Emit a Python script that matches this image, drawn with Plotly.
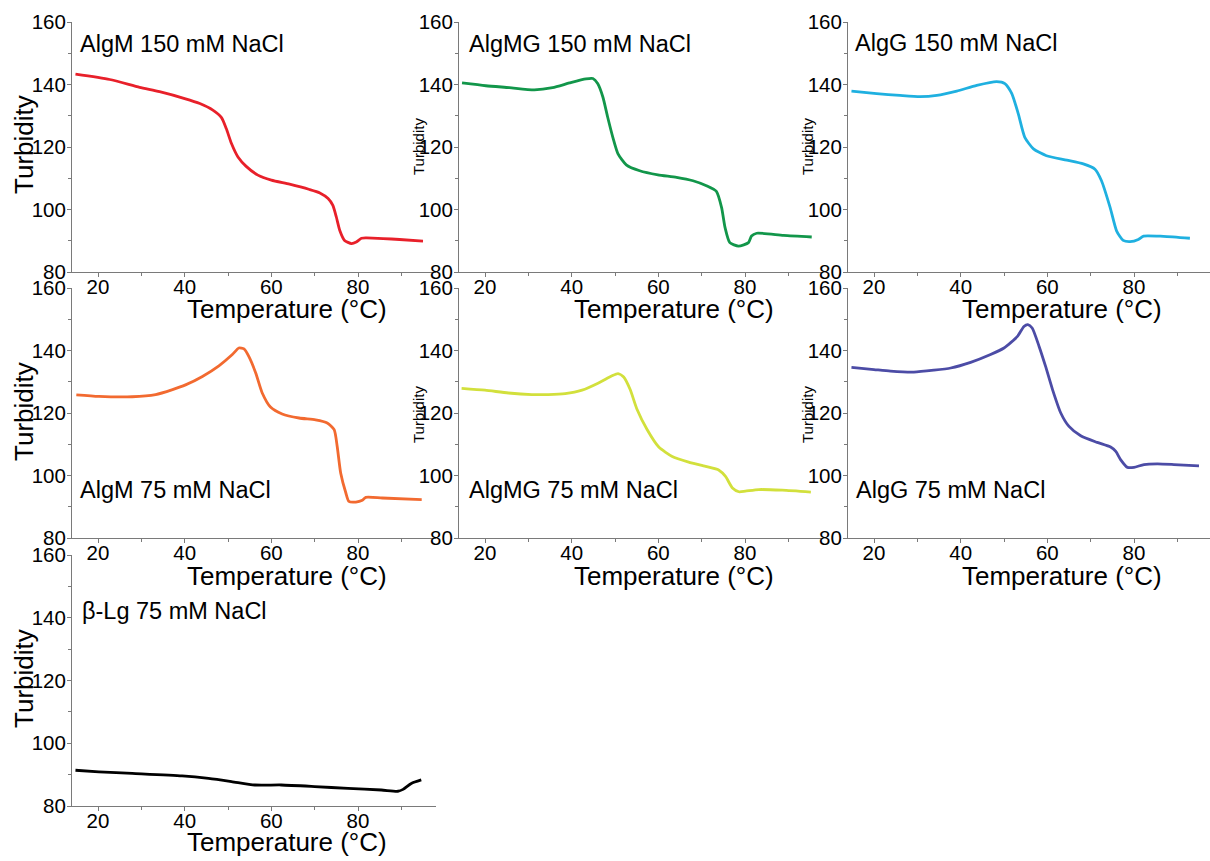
import plotly.graph_objects as go

W, H = 1210, 861

# ---------------- data ----------------
algm150_t = [14.8, 22.7, 29.6, 34.2, 40.0, 43.5, 46.5, 48.5, 49.6, 50.8, 52.3, 54.2, 56.9, 60.0, 64.2,
             68.8, 71.2, 73.1, 74.2, 75.0, 75.8, 76.9, 78.5, 79.6, 80.8, 81.9, 85.8, 89.6, 95.0]
algm150_y = [143.3, 141.6, 139.1, 137.7, 135.5, 133.9, 131.8, 129.4, 125.9, 121.1, 116.8, 113.8, 111.0, 109.4, 108.1,
             106.4, 105.3, 103.5, 101.3, 97.6, 93.3, 90.1, 89.1, 89.6, 90.8, 90.9, 90.7, 90.4, 89.9]

algmg150_t = [14.7, 20.2, 25.6, 31.4, 35.6, 39.5, 43.3, 44.9, 46.0, 47.2, 48.3, 49.5, 50.7, 52.6, 55.7,
              59.9, 64.2, 68.0, 71.1, 73.4, 74.6, 75.4, 76.5, 78.5, 80.8, 81.5, 82.7, 88.9, 95.4]
algmg150_y = [140.5, 139.6, 139.0, 138.3, 139.0, 140.5, 141.8, 141.9, 140.3, 136.0, 129.6, 123.1, 117.8, 114.3, 112.4,
              111.1, 110.3, 109.2, 107.6, 105.8, 100.6, 94.2, 89.4, 88.3, 89.4, 91.5, 92.4, 91.7, 91.2]

algg150_t = [14.8, 20.6, 26.0, 30.6, 34.5, 39.1, 43.7, 48.3, 50.2, 51.8, 53.3, 54.8, 56.8, 59.8, 64.5,
             68.3, 71.0, 72.5, 74.5, 76.0, 77.5, 79.1, 81.0, 82.2, 86.8, 92.9]
algg150_y = [137.9, 137.1, 136.5, 136.1, 136.5, 137.9, 139.7, 140.9, 140.3, 137.1, 130.6, 123.1, 119.4, 117.2, 115.8,
             114.6, 112.9, 109.2, 100.6, 93.1, 90.1, 89.7, 90.4, 91.5, 91.4, 90.8]

algm75_t = [15.0, 20.2, 27.9, 33.3, 37.2, 40.2, 44.1, 47.9, 51.0, 52.5, 53.7, 54.8, 56.4, 57.9, 59.8,
            62.5, 66.4, 70.2, 72.9, 74.5, 75.2, 76.0, 77.2, 77.9, 79.5, 81.0, 81.8, 85.6, 94.7]
algm75_y = [125.8, 125.3, 125.2, 125.9, 127.5, 129.0, 131.7, 135.1, 138.7, 140.8, 140.5, 138.1, 132.8, 126.4, 121.9,
            119.7, 118.4, 117.8, 116.8, 114.7, 109.3, 100.8, 94.4, 91.7, 91.5, 92.1, 93.0, 92.8, 92.3]

algmg75_t = [14.6, 20.0, 25.4, 30.8, 34.6, 38.5, 42.4, 46.2, 49.3, 50.7, 52.0, 53.5, 55.1, 57.4, 60.1,
             63.2, 67.0, 70.9, 74.0, 75.5, 77.1, 78.6, 80.1, 83.2, 88.6, 95.2]
algmg75_y = [127.9, 127.3, 126.4, 125.9, 125.9, 126.2, 127.3, 129.6, 131.9, 132.6, 131.5, 127.5, 121.1, 114.7, 109.1,
             106.1, 104.3, 102.9, 101.7, 99.7, 96.0, 94.8, 95.0, 95.5, 95.3, 94.7]

algg75_t = [14.8, 20.0, 23.8, 29.2, 33.8, 37.7, 42.3, 46.9, 50.0, 53.1, 54.6, 55.5, 56.5, 58.1, 59.6,
            61.2, 63.1, 65.0, 67.7, 71.5, 74.6, 75.8, 76.9, 78.5, 80.0, 82.3, 85.4, 89.2, 95.0]
algg75_y = [134.6, 133.9, 133.4, 133.1, 133.7, 134.4, 136.2, 138.7, 140.8, 144.5, 147.7, 148.3, 147.2, 141.3, 134.9,
            127.5, 120.0, 115.7, 112.7, 110.6, 109.1, 107.7, 105.1, 102.6, 102.6, 103.5, 103.7, 103.5, 103.1]

blg75_t = [14.8, 20.2, 27.9, 39.4, 45.5, 50.8, 56.2, 62.3, 70.0, 77.7, 85.4, 89.2, 90.4, 92.3, 94.6]
blg75_y = [91.4, 90.9, 90.4, 89.6, 88.8, 87.8, 86.7, 86.7, 86.2, 85.6, 85.1, 84.7, 85.3, 87.2, 88.3]

labels = ["AlgM 150 mM NaCl", "AlgMG 150 mM NaCl", "AlgG 150 mM NaCl",
          "AlgM 75 mM NaCl", "AlgMG 75 mM NaCl", "AlgG 75 mM NaCl", "β-Lg 75 mM NaCl"]
colors = ["#e8202a", "#12964a", "#1fb0e0", "#f26a30", "#d2e03c", "#4c4ca6", "#000000"]
series = [(algm150_t, algm150_y), (algmg150_t, algmg150_y), (algg150_t, algg150_y),
          (algm75_t, algm75_y), (algmg75_t, algmg75_y), (algg75_t, algg75_y), (blg75_t, blg75_y)]

x_title = "Temperature (°C)"
y_title = "Turbidity"

# ---------------- layout geometry (pixels) ----------------
cols_px = [(72, 436), (459, 823), (848, 1210)]
rows_px = [(22, 272), (288, 538), (555, 806)]
px_per_unit = 364 / 84.0
cells = [(0, 0), (0, 1), (0, 2), (1, 0), (1, 1), (1, 2), (2, 0)]
label_pos = [(78, 44), (467, 44), (853, 43), (78, 490), (467, 490), (854, 490), (80, 611)]
xtitle_pos = [(287, 309), (674, 309), (1062, 309), (287, 576), (674, 576), (1062, 576), (287, 842)]
ytitle_pos = [(24, 145), (418, 147), (807, 147), (24, 412), (418, 415), (807, 415), (24, 679)]
ytitle_size = [26, 15, 15, 26, 15, 15, 26]

FONT = "Liberation Sans, Arial, sans-serif"
fig = go.Figure()
layout = dict(width=W, height=H, margin=dict(l=0, r=0, t=0, b=0, pad=0, autoexpand=False),
              template="none",
              paper_bgcolor="white", plot_bgcolor="white", showlegend=False,
              font=dict(family=FONT, color="black"))
annotations = []

for i, ((r, c), (t, y)) in enumerate(zip(cells, series)):
    n = "" if i == 0 else str(i + 1)
    x0, x1 = cols_px[c]
    y0, y1 = rows_px[r]
    xr = [14, 14 + (x1 - x0) / px_per_unit]
    fig.add_trace(go.Scatter(x=t, y=y, mode="lines",
                             line=dict(color=colors[i], width=2.8, shape="spline", smoothing=0.6),
                             xaxis="x" + n, yaxis="y" + n, hoverinfo="skip"))
    common = dict(showline=True, linecolor="#7a7a7a", linewidth=1, showgrid=False, zeroline=False,
                  automargin=False, ticks="outside", ticklen=4, tickcolor="#7a7a7a",
                  ticklabelposition="outside",
                  tickfont=dict(size=20.5, family=FONT, color="black"))
    layout["xaxis" + n] = dict(domain=[x0 / W, x1 / W], range=xr, anchor="y" + n, tick0=0, dtick=20,
                               ticklabelstandoff=-8,
                               minor=dict(dtick=10, ticklen=3, tickcolor="#7a7a7a", ticks="outside"), **common)
    layout["yaxis" + n] = dict(domain=[1 - y1 / H, 1 - y0 / H], range=[80, 160], anchor="x" + n, tick0=0, dtick=20,
                               ticklabelstandoff=-3,
                               minor=dict(dtick=10, ticklen=3, tickcolor="#7a7a7a", ticks="outside"), **common)
    lx, ly = label_pos[i]
    annotations.append(dict(text=labels[i], x=lx / W, y=1 - ly / H, xref="paper", yref="paper",
                            xanchor="left", yanchor="middle", showarrow=False, font=dict(size=23.5, family=FONT)))
    tx, ty = xtitle_pos[i]
    annotations.append(dict(text=x_title, x=tx / W, y=1 - ty / H, xref="paper", yref="paper",
                            xanchor="center", yanchor="middle", showarrow=False, font=dict(size=26, family=FONT)))
    vx, vy = ytitle_pos[i]
    annotations.append(dict(text=y_title, x=vx / W, y=1 - vy / H, xref="paper", yref="paper", textangle=-90,
                            xanchor="center", yanchor="middle", showarrow=False,
                            font=dict(size=ytitle_size[i], family=FONT)))

layout["annotations"] = annotations
fig.update_layout(**layout)
fig.write_html("out.html")
